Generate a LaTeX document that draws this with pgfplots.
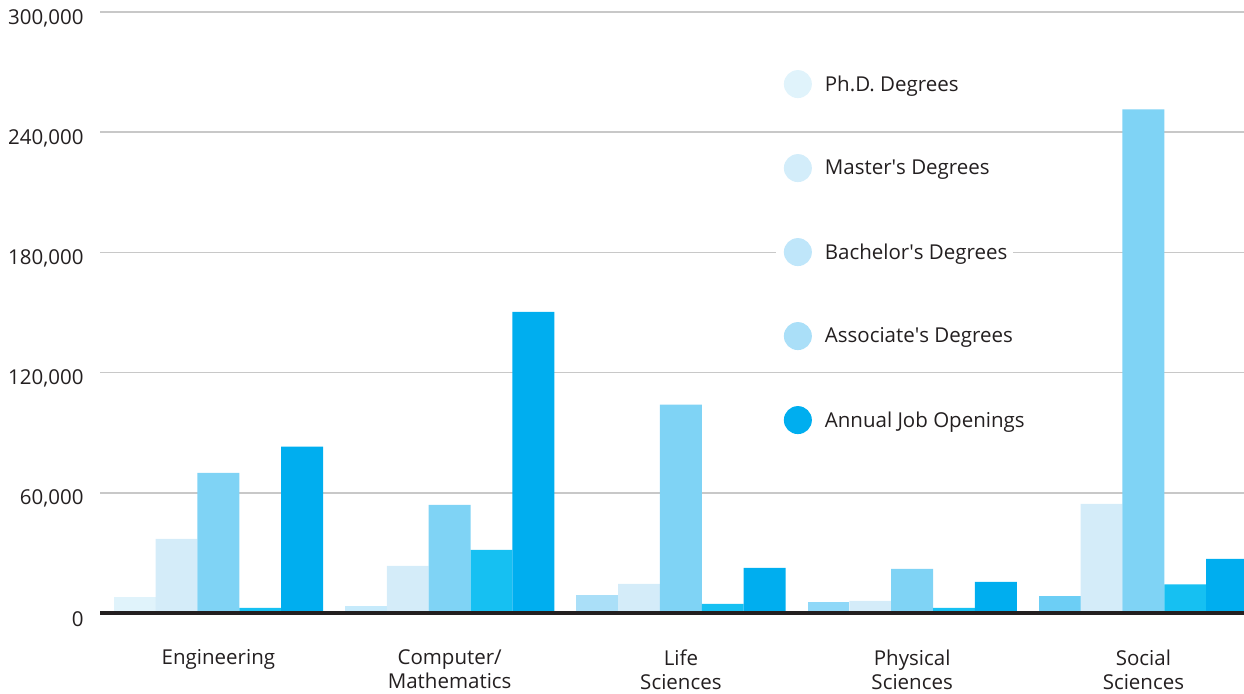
\documentclass[border=0pt]{standalone}
\usepackage{pgfplots}
\pgfplotsset{compat=1.18}
\usepackage{fontspec}
\setmainfont{Open Sans}
\definecolor{txt}{HTML}{231F20}
\definecolor{gridc}{HTML}{C8C8C8}
\definecolor{phdA}{HTML}{E0F3FB}
\definecolor{phdB}{HTML}{C6EAFB}
\definecolor{phdC}{HTML}{AADFF8}
\definecolor{phdD}{HTML}{8FD8F8}
\definecolor{phdE}{HTML}{6CCEF5}
\definecolor{mas}{HTML}{D4ECF9}
\definecolor{bac}{HTML}{7FD3F5}
\definecolor{asc}{HTML}{16C0F2}
\definecolor{job}{HTML}{00AEEF}
\definecolor{legM}{HTML}{D3EDFA}
\definecolor{legB}{HTML}{BFE6FA}
\definecolor{legA}{HTML}{AADFF8}
\begin{document}
\begin{tikzpicture}
\path[use as bounding box] (0,0) rectangle (1244bp,694bp);
\begin{axis}[
  at={(100bp,81bp)}, anchor=south west,
  scale only axis, width=1144bp, height=601bp,
  xmin=-0.512, xmax=4.435, ymin=0, ymax=300000,
  ybar, bar width=0.181,
  clip mode=individual,
  axis line style={draw=none},
  major tick length=0pt,
  ytick={0,60000,120000,180000,240000,300000},
  ymajorgrids, grid style={color=gridc, line width=1.5bp},
  scaled y ticks=false,
  /pgf/number format/assume math mode=true,
  yticklabel={\pgfmathprintnumber[fixed,1000 sep={,}]{\tick}},
  yticklabel style={anchor=east, xshift=-13bp, yshift=-6bp, font=\fontsize{20.5bp}{24bp}\selectfont, text=txt},
  xtick={0,1,2,3,4},
  xticklabels={Engineering,{Computer/\\Mathematics},{Life\\Sciences},{Physical\\Sciences},{Social\\Sciences}},
  xticklabel style={align=center, anchor=north, yshift=-33bp, font=\fontsize{20.5bp}{24bp}\selectfont, text=txt},
  legend style={at={(0.595,0.907)}, anchor=north west, draw=none, fill=none,
    font=\fontsize{20.5bp}{24bp}\selectfont, text=txt, row sep=56bp,
    nodes={inner sep=2bp}},
  legend cell align=left,
  every axis plot/.append style={draw=none},
]
% Ph.D. (colour differs per category)
\addplot[fill=phdA, bar shift=-0.362, forget plot] coordinates {(0,8100)};
\addplot[fill=phdB, bar shift=-0.362, forget plot] coordinates {(1,3500)};
\addplot[fill=phdC, bar shift=-0.362, forget plot] coordinates {(2,9000)};
\addplot[fill=phdD, bar shift=-0.362, forget plot] coordinates {(3,5500)};
\addplot[fill=phdE, bar shift=-0.362, forget plot] coordinates {(4,8700)};
% Master's
\addplot[fill=mas, bar shift=-0.181, forget plot] coordinates {(0,37000) (1,23500) (2,14500) (3,6000) (4,54500)};
% Bachelor's
\addplot[fill=bac, bar shift=0, forget plot] coordinates {(0,70000) (1,54000) (2,104000) (3,22000) (4,251400)};
% Associate's
\addplot[fill=asc, bar shift=0.181, forget plot] coordinates {(0,2500) (1,31500) (2,4500) (3,2500) (4,14300)};
% Annual job openings
\addplot[fill=job, bar shift=0.362, forget plot] coordinates {(0,83000) (1,150300) (2,22500) (3,15500) (4,27000)};
\fill[white] (axis cs:2.411,175000) rectangle (axis cs:3.436,185000);
\draw[line width=3bp, color=txt] (axis cs:-0.512,0) -- (axis cs:4.435,0);
\addlegendimage{legend image code/.code={\fill[phdA] (14bp,0bp) circle (14bp); \path (0bp,0bp) rectangle (39bp,1bp);}}
\addlegendentry{Ph.D. Degrees}
\addlegendimage{legend image code/.code={\fill[legM] (14bp,0bp) circle (14bp); \path (0bp,0bp) rectangle (39bp,1bp);}}
\addlegendentry{Master\textquotesingle s Degrees}
\addlegendimage{legend image code/.code={\fill[legB] (14bp,0bp) circle (14bp); \path (0bp,0bp) rectangle (39bp,1bp);}}
\addlegendentry{Bachelor\textquotesingle s Degrees}
\addlegendimage{legend image code/.code={\fill[legA] (14bp,0bp) circle (14bp); \path (0bp,0bp) rectangle (39bp,1bp);}}
\addlegendentry{Associate\textquotesingle s Degrees}
\addlegendimage{legend image code/.code={\fill[job] (14bp,0bp) circle (14bp); \path (0bp,0bp) rectangle (39bp,1bp);}}
\addlegendentry{Annual Job Openings}
\end{axis}
\end{tikzpicture}
\end{document}
